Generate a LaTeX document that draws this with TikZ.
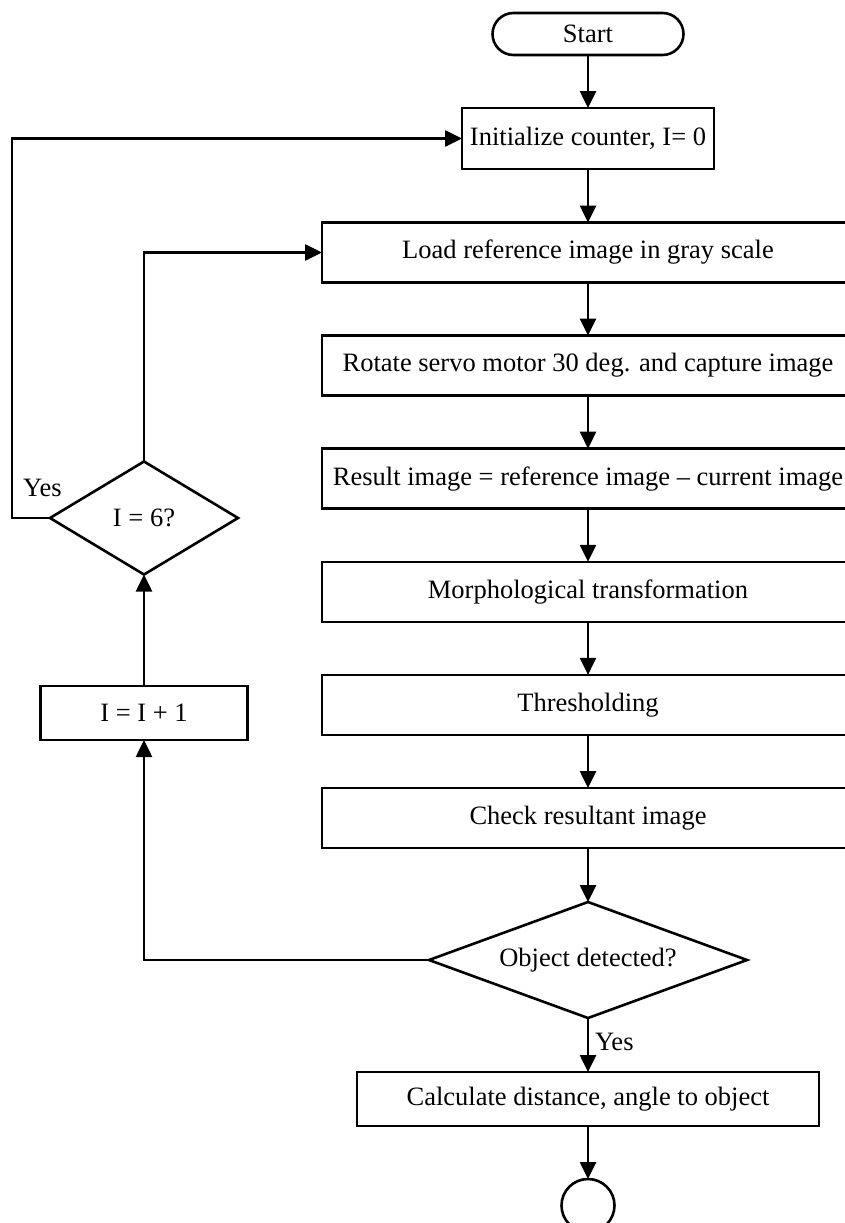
\documentclass[tikz,border=0pt]{standalone}
\usepackage{fontspec}
\setmainfont{Liberation Serif}
\usetikzlibrary{arrows.meta,shapes.geometric}
\begin{document}
\begin{tikzpicture}[x=1pt,y=-1pt,
  every node/.style={font=\fontsize{26.5pt}{31pt}\selectfont, inner sep=0pt, outer sep=0pt},
  lw/.style={line width=2.6pt},
  proc/.style={draw, lw, rectangle, minimum width=532pt, minimum height=60pt},
  smallproc/.style={draw, lw, rectangle},
  term/.style={draw, lw, rectangle, rounded corners=21pt, minimum width=191pt, minimum height=42pt},
  decision/.style={draw, lw, diamond},
  endc/.style={draw, lw, circle, minimum size=53pt},
  arr/.style={lw, -{Triangle[length=17pt,width=16pt]}},
  conn/.style={lw}]
\useasboundingbox (0,0) rectangle (845,1223);
\fill[white] (0,0) rectangle (845,1223);
\clip (0,0) rectangle (845,1223);

\node[term] (start) at (588,34) {Start};
\node[smallproc, minimum width=252pt, minimum height=61pt] (init) at (588,138.5) {Initialize counter, I= 0};
\node[proc] (load) at (588,252.5) {Load reference image in gray scale};
\node[proc] (rot) at (588,365.6) {Rotate servo motor 30 deg. and capture image};
\node[proc] (res) at (588,478.7) {Result image = reference image -- current image};
\node[proc] (morph) at (588,591.8) {Morphological transformation};
\node[proc] (thr) at (588,704.9) {Thresholding};
\node[proc] (chk) at (588,818) {Check resultant image};
\node[decision, aspect=2.741, minimum width=318pt, minimum height=116pt] (obj) at (588,960) {Object detected?};
\node[smallproc, minimum width=462pt, minimum height=54pt] (calc) at (588,1099) {Calculate distance, angle to object};
\node[endc] (stop) at (588,1205.5) {};
\node[smallproc, minimum width=207pt, minimum height=54pt] (inc) at (144,713) {I = I + 1};
\node[decision, aspect=1.664, minimum width=188pt, minimum height=113pt] (six) at (144,518) {I = 6?};
\coordinate (lc) at (12,518);

\draw[arr] (start) -- (init);
\draw[arr] (init) -- (load);
\draw[arr] (load) -- (rot);
\draw[arr] (rot) -- (res);
\draw[arr] (res) -- (morph);
\draw[arr] (morph) -- (thr);
\draw[arr] (thr) -- (chk);
\draw[arr] (chk) -- (obj);
\draw[arr] (obj) -- (calc);
\draw[arr] (calc) -- (stop);
\draw[arr] (obj.west) -| (inc.south);
\draw[arr] (inc) -- (six);
\draw[arr] (six.north) |- (load.west);
\draw[arr] (six.west) -- (lc) |- (init.west);

\node[anchor=west] (yes1) at (595,1042) {Yes};
\node (yes2) at (42.5,488) {Yes};
\end{tikzpicture}
\end{document}
